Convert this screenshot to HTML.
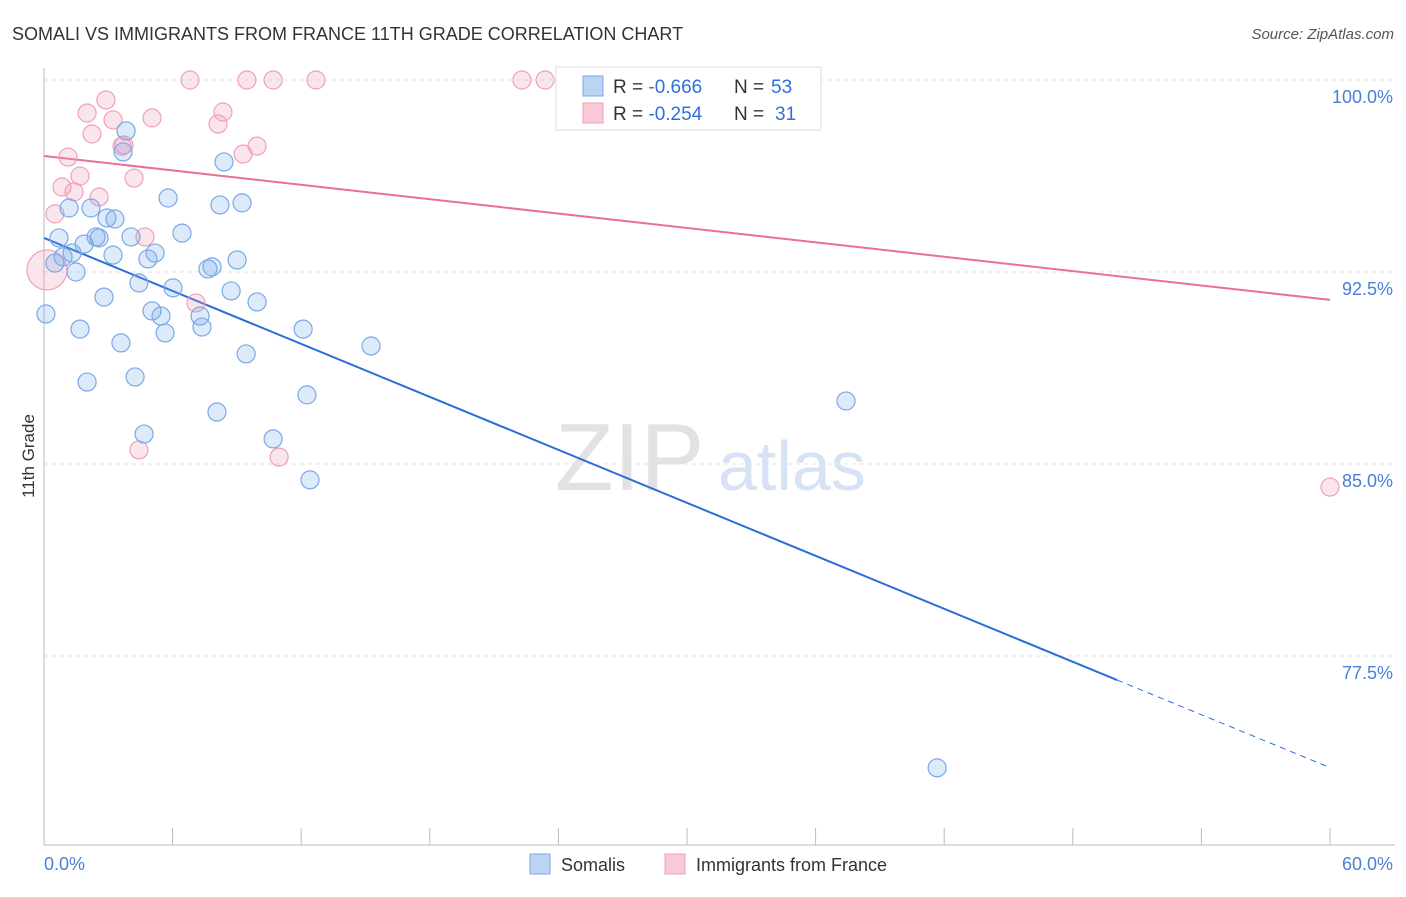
<!DOCTYPE html>
<html><head><meta charset="utf-8"><style>
body{margin:0;background:#fff;font-family:"Liberation Sans",sans-serif}
svg text{font-family:"Liberation Sans",sans-serif}
</style></head><body>
<svg id="chart" width="1406" height="892" xmlns="http://www.w3.org/2000/svg">
<text x="12" y="40" font-size="18" fill="#333">SOMALI VS IMMIGRANTS FROM FRANCE 11TH GRADE CORRELATION CHART</text>
<text x="1394" y="39" font-size="15" fill="#555" text-anchor="end" font-style="italic">Source: ZipAtlas.com</text>
<g>
<text x="555" y="490" font-size="96" fill="#e2e2e2" font-family="Liberation Serif, serif">ZIP</text>
<text x="718" y="490" font-size="70" fill="#d6e3f5">atlas</text>
</g>
<g id="grid"></g>
<g id="axes"></g>
<g id="trends"></g>
<g id="points"></g>
<text transform="translate(34,456) rotate(-90)" font-size="17" fill="#333" text-anchor="middle">11th Grade</text>
<g>
<rect x="556" y="67" width="265" height="63" fill="#fff" stroke="#ddd"/>
<rect x="583" y="76" width="20" height="20" fill="#bcd4f4" stroke="#7aa8e8"/>
<rect x="583" y="103" width="20" height="20" fill="#f9c9d7" stroke="#f0a0b8"/>
<text x="613" y="93" font-size="19" fill="#333">R = <tspan fill="#2f6fdc">-0.666</tspan></text>
<text x="734" y="93" font-size="19" fill="#333">N =</text>
<text x="771" y="93" font-size="19" fill="#2f6fdc">53</text>
<text x="613" y="120" font-size="19" fill="#333">R = <tspan fill="#2f6fdc">-0.254</tspan></text>
<text x="734" y="120" font-size="19" fill="#333">N =</text>
<text x="775" y="120" font-size="19" fill="#2f6fdc">31</text>
</g>
<g>
<rect x="530" y="854" width="20" height="20" fill="#bcd4f4" stroke="#7aa8e8"/>
<text x="561" y="871" font-size="18" fill="#333">Somalis</text>
<rect x="665" y="854" width="20" height="20" fill="#f9c9d7" stroke="#f0a0b8"/>
<text x="696" y="871" font-size="18" fill="#333">Immigrants from France</text>
</g>
</svg>
<script>
const xTicks=[0,6,12,18,24,30,36,42,48,54,60];
const yTicks=[100,92.5,85,77.5];
const yTickLabels=["100.0%","92.5%","85.0%","77.5%"];
const somaliX=[0.09,0.51,0.70,1.17,0.89,1.31,1.49,1.87,1.68,2.01,2.19,2.43,2.57,2.80,2.94,3.22,3.31,3.59,3.83,3.69,4.06,4.25,4.43,4.67,4.85,5.04,5.18,5.46,5.65,5.79,6.02,6.44,7.28,7.37,7.65,7.84,8.07,8.21,8.40,8.73,9.01,9.24,9.43,9.94,10.69,12.09,12.27,12.41,15.26,37.42,41.67];
const somaliY=[90.86,92.85,93.83,95.00,93.09,93.24,92.50,93.59,90.27,88.20,95.00,93.87,93.83,91.52,94.61,93.16,94.57,89.73,98.01,97.19,93.87,88.40,92.07,86.17,93.01,90.98,93.24,90.78,90.12,95.39,91.88,94.02,90.78,90.35,92.62,92.70,87.03,95.12,96.80,91.76,92.97,95.20,89.30,91.33,85.98,90.27,87.70,84.38,89.61,87.46,73.13];
const franceX=[0.14,0.51,0.84,1.12,1.40,1.68,2.01,2.24,2.57,2.89,3.22,3.64,3.73,4.20,4.43,4.71,5.04,6.81,7.09,8.12,8.35,9.29,9.47,9.94,10.69,10.97,12.69,22.30,23.38,31.26,60.0];
const franceY=[92.58,94.77,95.82,96.99,95.63,96.25,98.71,97.89,95.43,99.22,98.44,97.42,97.46,96.17,85.55,93.87,98.52,100,91.29,98.28,98.75,97.11,100,97.42,100,85.27,100,100,100,100,84.10];
const somaliTrend=[93.83,76.56,73.14];
const somaliTrendX=[0,50.07,60];
const franceTrend=[97.03,91.41];
const franceTrendX=[0,60];

const NS="http://www.w3.org/2000/svg";
const X=v=>44+v/60*1286;
const Y=v=>80+(100-v)*25.6;
function mk(tag,parent,attrs){const e=document.createElementNS(NS,tag);for(const k in attrs)e.setAttribute(k,attrs[k]);document.getElementById(parent).appendChild(e);return e;}

yTicks.forEach((t,i)=>{
 const g=mk('line','grid',{x1:44,x2:1395,y1:Y(t),y2:Y(t),stroke:'#e3e3e3','stroke-dasharray':'4,4'});
 
 
 const l=mk('text','axes',{x:1393,y:Y(t)+23,'font-size':18,fill:'#4a7fd6','text-anchor':'end'});
 l.textContent=yTickLabels[i];
 
 
});
const ax=mk('line','axes',{x1:44,x2:44,y1:68,y2:845,stroke:'#bbb'});


const bx=mk('line','axes',{x1:44,x2:1395,y1:845,y2:845,stroke:'#bbb'});


xTicks.forEach(t=>{
 const tk=mk('line','axes',{x1:X(t),x2:X(t),y1:828,y2:845,stroke:'#bbb'});
 
 
});
const xl0=mk('text','axes',{x:44,y:870,'font-size':18,fill:'#4a7fd6'});
xl0.textContent=xTicks[0].toFixed(1)+'%';


const xl1=mk('text','axes',{x:1393,y:870,'font-size':18,fill:'#4a7fd6','text-anchor':'end'});
xl1.textContent=xTicks[xTicks.length-1].toFixed(1)+'%';



franceX.forEach((x,i)=>{
 const c=mk('circle','points',{cx:X(x),cy:Y(franceY[i]),r:i===0?20:9,fill:'rgba(240,150,180,0.25)',stroke:'#f0a0b8','stroke-width':1.2});
 
 
});
somaliX.forEach((x,i)=>{
 const c=mk('circle','points',{cx:X(x),cy:Y(somaliY[i]),r:9,fill:'rgba(120,170,230,0.25)',stroke:'#7aa8e8','stroke-width':1.2});
 
 
});
const t1=mk('line','trends',{x1:X(somaliTrendX[0]),y1:Y(somaliTrend[0]),x2:X(somaliTrendX[1]),y2:Y(somaliTrend[1]),stroke:'#2a6fd8','stroke-width':2});


const t2=mk('line','trends',{x1:X(somaliTrendX[1]),y1:Y(somaliTrend[1]),x2:X(somaliTrendX[2]),y2:Y(somaliTrend[2]),stroke:'#2a6fd8','stroke-width':1,'stroke-dasharray':'6,5'});


const t3=mk('line','trends',{x1:X(franceTrendX[0]),y1:Y(franceTrend[0]),x2:X(franceTrendX[1]),y2:Y(franceTrend[1]),stroke:'#e8709a','stroke-width':2});


</script>
</body></html>
